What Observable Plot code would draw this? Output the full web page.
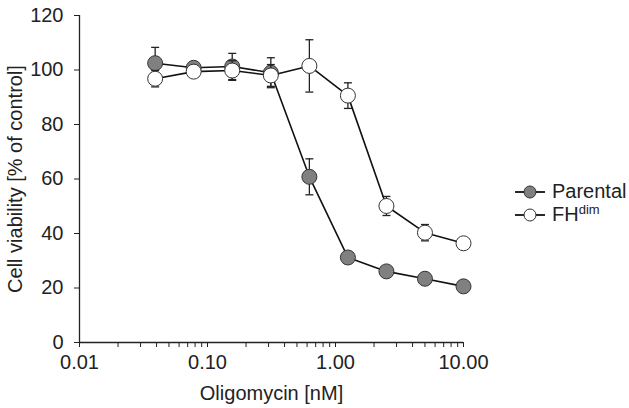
<!DOCTYPE html>
<html>
<head>
<meta charset="utf-8">
<script src="https://cdn.jsdelivr.net/npm/d3@7"></script>
<script src="https://cdn.jsdelivr.net/npm/@observablehq/plot@0.6"></script>
<style>
  html, body { margin: 0; padding: 0; background: #fff; }
  #wrap { position: relative; width: 629px; height: 408px; font-family: "Liberation Sans", Arial, sans-serif; color: #222; }
  #legend { position: absolute; left: 514px; top: 180px; font-size: 20px; }
  #legend .row { display: flex; align-items: center; height: 23px; }
  #legend svg { margin-right: 6px; }
  sup { font-size: 13px; vertical-align: 7px; line-height: 0; }
</style>
</head>
<body>
<div id="wrap"><div id="legend"></div></div>
<script>
const conc = [0.039, 0.078, 0.156, 0.3125, 0.625, 1.25, 2.5, 5, 10];
const parental = [102.5, 100.8, 101.3, 99.0, 60.8, 31.2, 26.1, 23.4, 20.6];
const parentalErr = [5.8, 1.5, 4.8, 5.5, 6.6, 2.0, 1.5, 1.5, 1.5];
const fhdim = [96.8, 99.4, 99.8, 98.0, 101.5, 90.6, 50.1, 40.3, 36.4];
const fhdimErr = [3.0, 2.0, 3.6, 4.0, 9.6, 4.7, 3.5, 3.0, 1.5];
const seriesNames = ["Parental", "FHdim"];
const seriesFill = ["#808080", "#ffffff"];
const yTicks = [0, 20, 40, 60, 80, 100, 120];
const xMajorTicks = [0.01, 0.1, 1, 10];
const xMinorMult = [2, 3, 4, 5, 6, 7, 8, 9];

const rows = [];
[parental, fhdim].forEach((vals, s) => {
  const errs = s === 0 ? parentalErr : fhdimErr;
  conc.forEach((c, i) => rows.push({series: seriesNames[s], x: c, y: vals[i], lo: vals[i] - errs[i], hi: vals[i] + errs[i]}));
});
const xTicks = [];
xMajorTicks.forEach(t => { xTicks.push(t); if (t < 10) xMinorMult.forEach(m => xTicks.push(+(t * m).toPrecision(3))); });

const cap = { draw(ctx, size) { const w = 4; ctx.moveTo(-w, 0); ctx.lineTo(w, 0); } };
const fillOf = d => seriesFill[seriesNames.indexOf(d.series)];

const chart = Plot.plot({
  width: 629,
  height: 408,
  marginLeft: 79,
  marginRight: 166,
  marginTop: 15,
  marginBottom: 66,
  style: { fontSize: "20px", fontFamily: "Liberation Sans, Arial, sans-serif", color: "#222", background: "#fff" },
  x: { type: "log", domain: [0.01, 10] },
  y: { domain: [0, 120] },
  marks: [
    Plot.axisY({ ticks: yTicks, tickSize: 5, tickPadding: 11, fontSize: 20, label: "Cell viability [% of control]", labelAnchor: "center", labelArrow: "none", labelOffset: 72 }),
    Plot.axisX({ ticks: xTicks, tickSize: 5, tickPadding: 7, fontSize: 20, tickFormat: d => xMajorTicks.includes(d) ? d.toFixed(2) : "", label: "Oligomycin [nM]", labelAnchor: "center", labelArrow: "none", labelOffset: 57 }),
    Plot.ruleX([0.01], { y1: 0, y2: 120, stroke: "#222", strokeWidth: 1.3 }),
    Plot.ruleY([0], { stroke: "#222", strokeWidth: 1.3 }),
    ...seriesNames.map(name => [
      Plot.ruleX(rows.filter(d => d.series === name), { x: "x", y1: "lo", y2: "hi", stroke: "#222", strokeWidth: 1.3 }),
      Plot.dot(rows.filter(d => d.series === name), { x: "x", y: "lo", symbol: cap, r: 4, stroke: "#222", strokeWidth: 1.3 }),
      Plot.dot(rows.filter(d => d.series === name), { x: "x", y: "hi", symbol: cap, r: 4, stroke: "#222", strokeWidth: 1.3 }),
      Plot.line(rows.filter(d => d.series === name), { x: "x", y: "y", stroke: "#111", strokeWidth: 1.6 }),
      Plot.dot(rows.filter(d => d.series === name), { x: "x", y: "y", r: 7.5, fill: fillOf, stroke: "#333", strokeWidth: 1 })
    ]).flat()
  ]
});
document.getElementById("wrap").prepend(chart);

const legend = document.getElementById("legend");
seriesNames.forEach((name, i) => {
  const row = document.createElement("div");
  row.className = "row";
  const label = name === "FHdim" ? 'FH<sup>dim</sup>' : name;
  row.innerHTML = `<svg width="32" height="16"><line x1="1" x2="31" y1="8" y2="8" stroke="#111" stroke-width="1.8"/><circle cx="16" cy="8" r="6" fill="${seriesFill[i]}" stroke="#333" stroke-width="1"/></svg><span>${label}</span>`;
  legend.appendChild(row);
});
</script>
</body>
</html>
